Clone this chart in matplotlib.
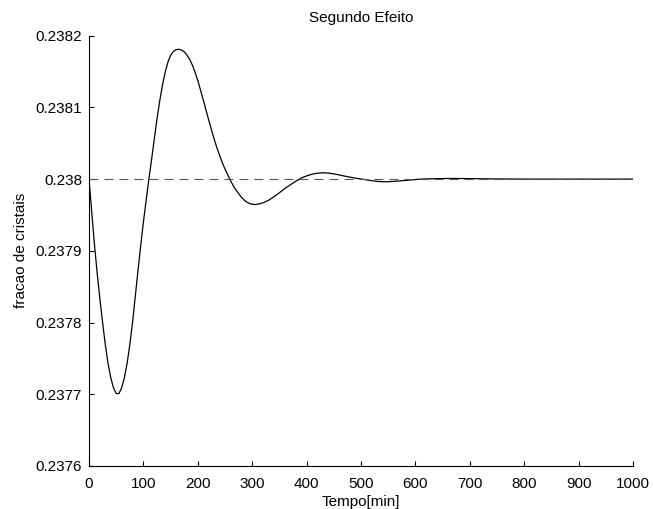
import matplotlib
matplotlib.use("Agg")
import matplotlib.pyplot as plt
import numpy as np

plt.rcParams['font.family'] = ['Liberation Sans', 'DejaVu Sans']

# time [min]
t = [0, 5, 10, 15, 20, 25, 30, 35, 40, 45, 50, 55, 60, 65, 70, 75, 80, 85, 90, 95,
     100, 105, 110, 115, 120, 125, 130, 135, 140, 145, 150, 155, 160, 165, 170, 175,
     180, 185, 190, 195, 200, 205, 210, 215, 220, 225, 230, 235, 240, 245, 250, 255,
     260, 265, 270, 275, 280, 285, 290, 295, 300, 305, 310, 315, 320, 330, 340, 350,
     360, 370, 380, 390, 400, 410, 420, 430, 440, 450, 460, 470, 480, 490, 500, 510,
     520, 530, 540, 550, 560, 570, 580, 590, 600, 610, 630, 650, 670, 700, 740, 780,
     820, 900, 1000]
# deviation from 0.238 in units of 1e-6
dev = [0, -46, -91, -131, -167, -200, -231, -257, -277, -291, -299, -299, -291, -277, -257, -231, -200, -164, -128, -93,
       -60, -30, 0, 27, 56, 84, 109, 131, 149, 163, 172.5, 178, 180.5, 181, 180, 177.5,
       173, 167, 159, 149, 137.5, 124, 110.5, 96.5, 82.5, 69, 56, 44, 33, 23, 14, 6,
       -2, -9, -15, -20, -25, -29, -32, -34, -35, -35.5, -35, -34, -33, -29.5, -24.5, -19,
       -13, -8, -3, 1.5, 4.5, 6.9, 8.3, 8.8, 8.4, 7.3, 5.8, 4.2, 2.7, 1.3, 0.2, -1,
       -2.2, -3.2, -3.6, -3.6, -3.2, -2.6, -1.9, -1.2, -0.6, 0, 0.5, 0.8, 0.9, 0.7, 0.3, 0.1,
       0, 0, 0]
setpoint = 0.238

xticks = [0, 100, 200, 300, 400, 500, 600, 700, 800, 900, 1000]
yticks = [0.2376, 0.2377, 0.2378, 0.2379, 0.238, 0.2381, 0.2382]
ytick_labels = ['0.2376', '0.2377', '0.2378', '0.2379', '0.238', '0.2381', '0.2382']

y = setpoint + np.array(dev) * 1e-6

fig = plt.figure(figsize=(6.53, 5.09), dpi=100)
ax = fig.add_axes([0.1363, 0.0845, 0.8331, 0.8454])
ax.plot(t, y, color='black', lw=0.9)
ax.plot([0, 1000], [setpoint, setpoint], color='#555555', lw=0.8, ls=(0, (8, 5.5)))

ax.set_xlim(0, 1000)
ax.set_ylim(0.2376, 0.2382)
ax.set_xticks(xticks)
ax.set_xticklabels([str(v) for v in xticks])
ax.set_yticks(yticks)
ax.set_yticklabels(ytick_labels)
ax.tick_params(direction='in', length=3.6, width=0.8, labelsize=11)
ax.tick_params(axis='x', pad=8)
ax.tick_params(axis='y', pad=5)
for s in ['top', 'right']:
    ax.spines[s].set_visible(False)
for s in ['left', 'bottom']:
    ax.spines[s].set_linewidth(0.8)

ax.set_title('Segundo Efeito', fontsize=11, pad=9.5)
ax.set_xlabel('Tempo[min]', fontsize=11, labelpad=2.5)
ax.set_ylabel('fracao de cristais', fontsize=11, labelpad=5.5)

fig.savefig('out.png', dpi=100)
